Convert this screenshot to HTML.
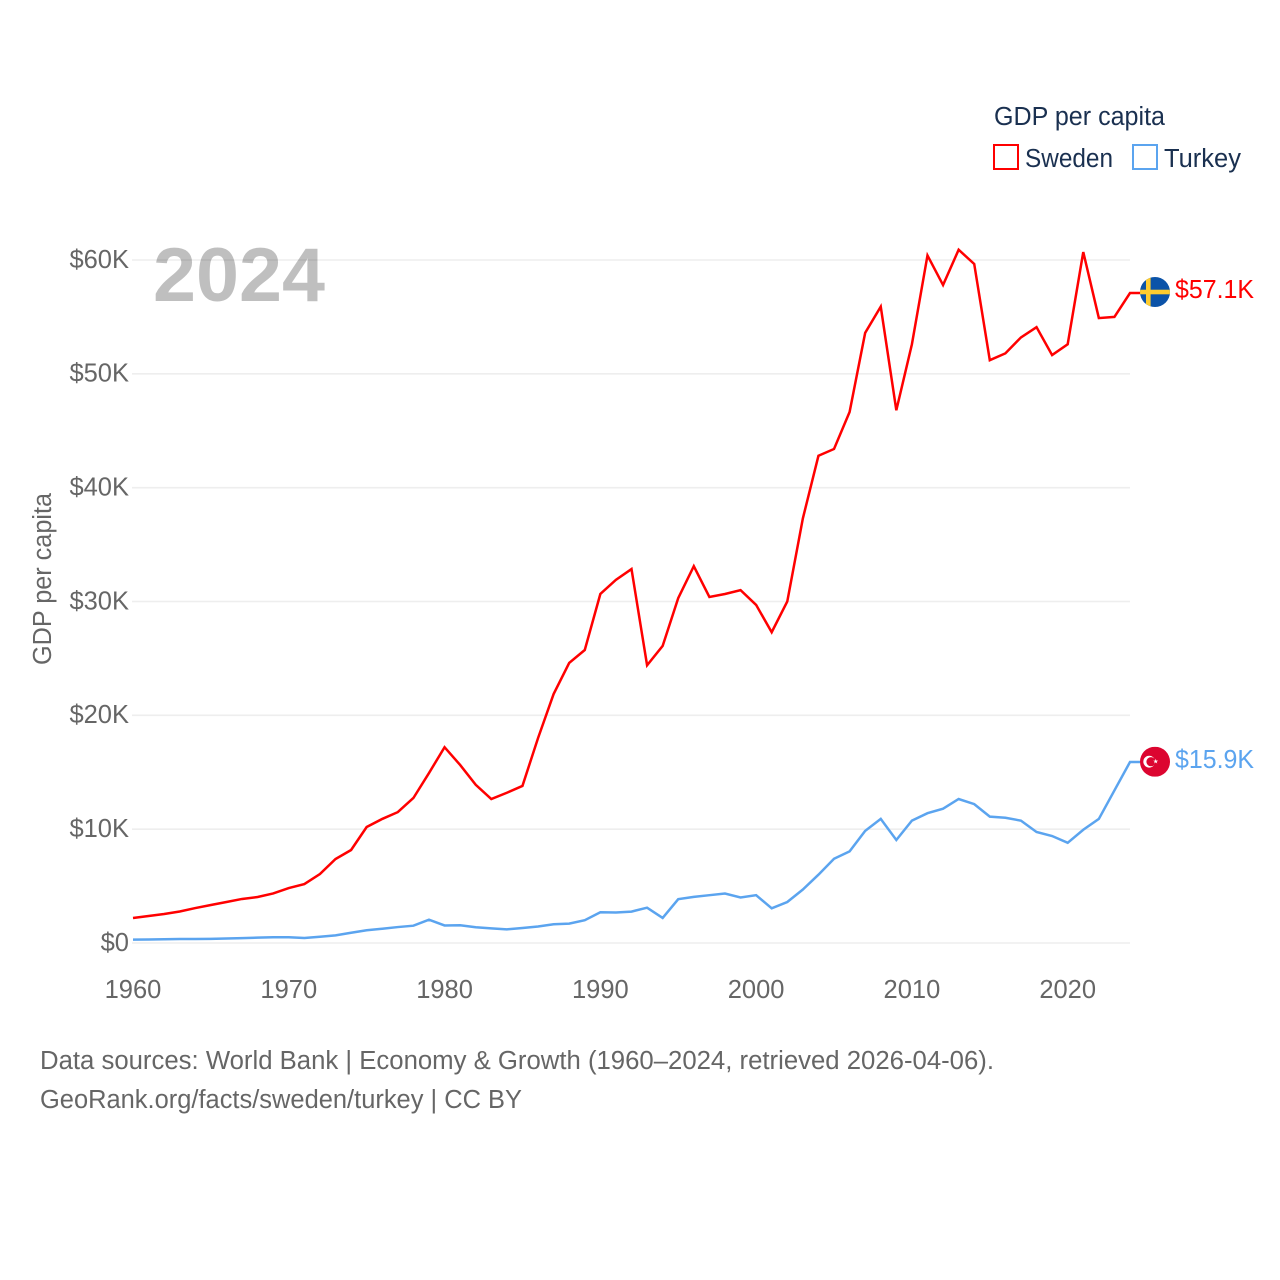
<!DOCTYPE html>
<html lang="en">
<head>
<meta charset="utf-8">
<title>GDP per capita: Sweden and Turkey</title>
<style>
html,body{margin:0;padding:0;background:#fff;}
svg{display:block;}
text{font-family:"Liberation Sans",sans-serif;}
.axis{font-size:25.5px;fill:#666;}
.legend{font-size:25.5px;fill:#1a3050;}
.foot{font-size:25.5px;fill:#666;}
</style>
</head>
<body>
<svg id="chart" xmlns="http://www.w3.org/2000/svg" width="1280" height="1280" viewBox="0 0 1280 1280">
  <defs>
    <clipPath id="flag-clip"><circle cx="0" cy="0" r="15"></circle></clipPath>
  </defs>
  <g id="grid"></g>
  <text x="153" y="301" font-size="76" font-weight="700" fill="#000000" fill-opacity="0.25" textLength="172" lengthAdjust="spacingAndGlyphs">2024</text>
  <g id="yticks"></g>
  <g id="xticks"></g>
  <text class="axis" transform="translate(51,665) rotate(-90)" textLength="172" lengthAdjust="spacingAndGlyphs">GDP per capita</text>
  <g id="series"></g>

  <g id="flag-sweden">
    <g clip-path="url(#flag-clip)">
      <rect x="-15" y="-15" width="30" height="30" fill="#0b53a8"></rect>
      <rect x="-9" y="-15" width="4.6" height="30" fill="#fecc2f"></rect>
      <rect x="-15" y="-2.3" width="30" height="4.6" fill="#fecc2f"></rect>
    </g>
  </g>
  <g id="flag-turkey">
    <g clip-path="url(#flag-clip)">
      <rect x="-15" y="-15" width="30" height="30" fill="#dc0530"></rect>
      <circle cx="-5.8" cy="0" r="5.9" fill="#fff"></circle>
      <circle cx="-4" cy="0" r="4.6" fill="#dc0530"></circle>
      <polygon transform="translate(0.7,-0.3)" points="0,-2.6 0.59,-0.81 2.47,-0.8 0.95,0.31 1.53,2.1 0,1 -1.53,2.1 -0.95,0.31 -2.47,-0.8 -0.59,-0.81" fill="#fff"></polygon>
    </g>
  </g>
  <text id="label-sweden" x="1175" y="298" font-size="25.5" fill="#ff0000" textLength="79" lengthAdjust="spacingAndGlyphs"></text>
  <text id="label-turkey" x="1175" y="768" font-size="25.5" fill="#5ba4ef" textLength="79" lengthAdjust="spacingAndGlyphs"></text>

  <g>
    <text class="legend" x="994" y="125" textLength="171" lengthAdjust="spacingAndGlyphs">GDP per capita</text>
    <g>
      <rect x="994" y="145" width="24" height="24" fill="none" stroke="#ff0000" stroke-width="2"></rect>
      <text class="legend" x="1025" y="167" textLength="88" lengthAdjust="spacingAndGlyphs">Sweden</text>
    </g>
    <g>
      <rect x="1133" y="145" width="24" height="24" fill="none" stroke="#5ba4ef" stroke-width="2"></rect>
      <text class="legend" x="1164" y="167" textLength="77" lengthAdjust="spacingAndGlyphs">Turkey</text>
    </g>
  </g>

  <text class="foot" x="40" y="1069" textLength="954" lengthAdjust="spacingAndGlyphs">Data sources: World Bank | Economy &amp; Growth (1960–2024, retrieved 2026-04-06).</text>
  <text class="foot" x="40" y="1108" textLength="482" lengthAdjust="spacingAndGlyphs">GeoRank.org/facts/sweden/turkey | CC BY</text>
</svg>
<script>
const startYear = 1960;
const endYear = 2024;
const yTicks = [0, 10, 20, 30, 40, 50, 60];
const xTicks = [1960, 1970, 1980, 1990, 2000, 2010, 2020];
const sweden = [2.2, 2.37, 2.55, 2.77, 3.07, 3.34, 3.6, 3.87, 4.04, 4.35,
  4.83, 5.18, 6.06, 7.38, 8.17, 10.19, 10.9, 11.5, 12.74, 14.93,
  17.2, 15.64, 13.9, 12.65, 13.2, 13.8, 18.0, 21.87, 24.6, 25.74,
  30.66, 31.9, 32.85, 24.4, 26.1, 30.3, 33.1, 30.4, 30.66, 31.0,
  29.7, 27.3, 30.0, 37.3, 42.8, 43.4, 46.65, 53.6, 55.9, 46.8,
  52.6, 60.4, 57.8, 60.9, 59.65, 51.2, 51.8, 53.2, 54.1, 51.65,
  52.6, 60.7, 54.9, 55.0, 57.1];
const turkey = [0.3, 0.31, 0.33, 0.35, 0.35, 0.36, 0.4, 0.43, 0.47, 0.5,
  0.5, 0.44, 0.55, 0.67, 0.9, 1.12, 1.25, 1.4, 1.52, 2.05,
  1.54, 1.56, 1.38, 1.28, 1.2, 1.32, 1.45, 1.65, 1.7, 2.0,
  2.7, 2.68, 2.76, 3.1, 2.2, 3.85, 4.05, 4.2, 4.35, 4.0,
  4.2, 3.05, 3.6, 4.7, 6.0, 7.4, 8.05, 9.85, 10.9, 9.05,
  10.75, 11.4, 11.8, 12.65, 12.2, 11.1, 11.0, 10.75, 9.75, 9.4,
  8.8, 9.95, 10.9, 13.4, 15.9];

const NS = 'http://www.w3.org/2000/svg';
function xScale(year) { return 133 + (year - startYear) * (1130 - 133) / (endYear - startYear); }
function yScale(k) { return 943 - k * (943 - 260) / 60; }
function make(tag, attrs, parent) {
  const el = document.createElementNS(NS, tag);
  for (const key in attrs) el.setAttribute(key, attrs[key]);
  parent.appendChild(el);
  return el;
}

const gridGroup = document.getElementById('grid');
const yGroup = document.getElementById('yticks');
yTicks.forEach(function (t) {
  const line = make('line', { x1: 132, x2: 1130, y1: yScale(t), y2: yScale(t), stroke: '#eeeeee', 'stroke-width': 1.6 }, gridGroup);
  
  
  const label = make('text', { x: 129, y: yScale(t) + 7.8, 'text-anchor': 'end', class: 'axis' }, yGroup);
  
  
  label.textContent = t === 0 ? '$0' : '$' + t + 'K';
});

const xGroup = document.getElementById('xticks');
xTicks.forEach(function (t) {
  const label = make('text', { x: xScale(t), y: 998, 'text-anchor': 'middle', class: 'axis' }, xGroup);
  
  
  label.textContent = String(t);
});

function pathFor(values) {
  const pts = values.map(function (v, i) { return xScale(startYear + i).toFixed(2) + ',' + yScale(v).toFixed(2); });
  const last = values[values.length - 1];
  pts.push('1140,' + yScale(last).toFixed(2));
  return 'M' + pts.join('L');
}

const seriesGroup = document.getElementById('series');
const swedenLine = make('path', { d: pathFor(sweden), fill: 'none', stroke: '#ff0000', 'stroke-width': 2.5, 'stroke-linejoin': 'miter' }, seriesGroup);


const turkeyLine = make('path', { d: pathFor(turkey), fill: 'none', stroke: '#5ba4ef', 'stroke-width': 2.5, 'stroke-linejoin': 'miter' }, seriesGroup);



function placeEnd(values, flagId, labelId, flagDy, labelDy) {
  const last = values[values.length - 1];
  document.getElementById(flagId).setAttribute('transform', 'translate(1155,' + (yScale(last) + flagDy).toFixed(2) + ')');
  const label = document.getElementById(labelId);
  label.setAttribute('y', (yScale(last) + labelDy).toFixed(2));
  label.textContent = '$' + last.toFixed(1) + 'K';
}
placeEnd(sweden, 'flag-sweden', 'label-sweden', -1, 5);
placeEnd(turkey, 'flag-turkey', 'label-turkey', -0.3, 6);
</script>
</body>
</html>
